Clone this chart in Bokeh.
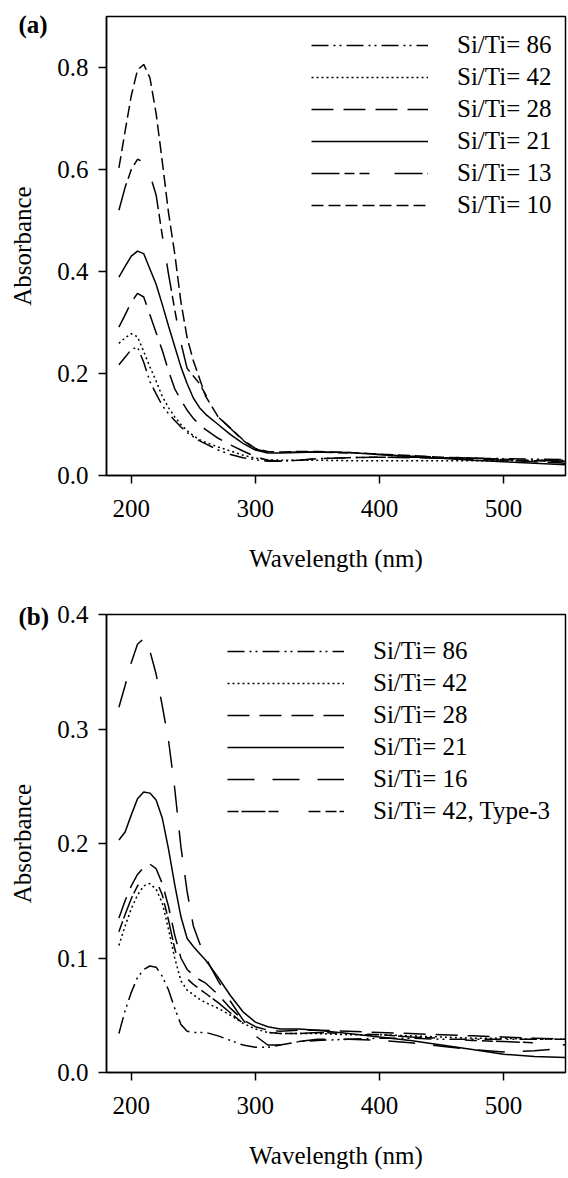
from bokeh.plotting import figure
from bokeh.models import (FixedTicker, NumeralTickFormatter, Legend, LegendItem, Range1d)
from bokeh.layouts import column
from bokeh.embed import file_html
from bokeh.resources import INLINE

# ---------------- data ----------------
wavelength = [190, 195, 200, 205, 210, 215, 220, 225, 230, 235, 240, 245, 250, 255, 260,
              270, 280, 290, 300, 310, 320, 335, 350, 375, 400, 425, 450, 475, 500, 525, 550]

x_ticks = [200, 300, 400, 500]
a_y_ticks = [0.0, 0.2, 0.4, 0.6, 0.8]
b_y_ticks = [0.0, 0.1, 0.2, 0.3, 0.4]

a_labels = ["Si/Ti= 86", "Si/Ti= 42", "Si/Ti= 28", "Si/Ti= 21", "Si/Ti= 13", "Si/Ti= 10"]
a_86 = [0.217, 0.232, 0.247, 0.252, 0.222, 0.184, 0.160, 0.137, 0.121, 0.108, 0.095, 0.084, 0.076, 0.068, 0.062,
        0.050, 0.041, 0.035, 0.031, 0.028, 0.028, 0.030, 0.033, 0.035, 0.036, 0.036, 0.035, 0.034, 0.033, 0.032, 0.031]
a_42 = [0.259, 0.270, 0.278, 0.272, 0.243, 0.213, 0.185, 0.155, 0.133, 0.115, 0.100, 0.088, 0.078, 0.070, 0.065,
        0.056, 0.048, 0.040, 0.034, 0.031, 0.030, 0.030, 0.030, 0.029, 0.029, 0.029, 0.029, 0.029, 0.029, 0.030, 0.030]
a_28 = [0.291, 0.315, 0.340, 0.357, 0.350, 0.315, 0.280, 0.245, 0.205, 0.170, 0.148, 0.128, 0.112, 0.099, 0.090,
        0.073, 0.060, 0.048, 0.037, 0.030, 0.028, 0.030, 0.033, 0.035, 0.036, 0.035, 0.034, 0.032, 0.030, 0.027, 0.024]
a_21 = [0.389, 0.410, 0.430, 0.440, 0.435, 0.405, 0.375, 0.335, 0.293, 0.253, 0.213, 0.180, 0.152, 0.133, 0.120,
        0.100, 0.080, 0.063, 0.050, 0.044, 0.044, 0.045, 0.046, 0.045, 0.041, 0.037, 0.034, 0.030, 0.027, 0.024, 0.021]
a_13 = [0.520, 0.565, 0.600, 0.620, 0.615, 0.590, 0.550, 0.470, 0.395, 0.325, 0.260, 0.210, 0.195, 0.180, 0.158,
        0.115, 0.092, 0.069, 0.052, 0.046, 0.045, 0.046, 0.046, 0.044, 0.041, 0.038, 0.036, 0.034, 0.032, 0.030, 0.028]
a_10 = [0.603, 0.675, 0.745, 0.795, 0.806, 0.780, 0.710, 0.615, 0.515, 0.435, 0.340, 0.270, 0.225, 0.190, 0.155,
        0.115, 0.093, 0.070, 0.053, 0.047, 0.046, 0.047, 0.047, 0.045, 0.042, 0.039, 0.036, 0.034, 0.031, 0.029, 0.027]

b_labels = ["Si/Ti= 86", "Si/Ti= 42", "Si/Ti= 28", "Si/Ti= 21", "Si/Ti= 16", "Si/Ti= 42, Type-3"]
b_86 = [0.034, 0.054, 0.070, 0.083, 0.090, 0.093, 0.092, 0.084, 0.072, 0.056, 0.042, 0.036, 0.035, 0.035, 0.035,
        0.032, 0.028, 0.024, 0.022, 0.022, 0.024, 0.027, 0.028, 0.029, 0.030, 0.030, 0.029, 0.029, 0.029, 0.029, 0.029]
b_42 = [0.111, 0.128, 0.143, 0.155, 0.163, 0.165, 0.160, 0.148, 0.125, 0.100, 0.080, 0.072, 0.068, 0.064, 0.061,
        0.056, 0.050, 0.043, 0.038, 0.035, 0.034, 0.034, 0.034, 0.033, 0.033, 0.032, 0.031, 0.030, 0.030, 0.029, 0.029]
b_28 = [0.135, 0.150, 0.163, 0.173, 0.179, 0.182, 0.178, 0.165, 0.145, 0.120, 0.100, 0.090, 0.085, 0.081, 0.078,
        0.068, 0.056, 0.046, 0.040, 0.037, 0.036, 0.037, 0.037, 0.036, 0.035, 0.034, 0.033, 0.032, 0.031, 0.030, 0.029]
b_21 = [0.203, 0.210, 0.225, 0.239, 0.245, 0.244, 0.238, 0.222, 0.195, 0.164, 0.136, 0.117, 0.110, 0.104, 0.098,
        0.083, 0.067, 0.053, 0.044, 0.040, 0.038, 0.038, 0.037, 0.034, 0.031, 0.028, 0.024, 0.020, 0.016, 0.014, 0.013]
b_16 = [0.319, 0.338, 0.358, 0.374, 0.379, 0.368, 0.348, 0.320, 0.290, 0.248, 0.197, 0.158, 0.128, 0.113, 0.100,
        0.080, 0.062, 0.046, 0.032, 0.024, 0.024, 0.027, 0.029, 0.029, 0.028, 0.026, 0.023, 0.020, 0.018, 0.019, 0.021]
b_t3 = [0.123, 0.138, 0.152, 0.163, 0.169, 0.172, 0.168, 0.155, 0.133, 0.108, 0.090, 0.082, 0.077, 0.073, 0.069,
        0.061, 0.052, 0.043, 0.038, 0.035, 0.034, 0.034, 0.035, 0.034, 0.033, 0.031, 0.030, 0.028, 0.027, 0.026, 0.024]

# ---------------- styling ----------------
FONT = "'Liberation Serif', 'Times New Roman', serif"
FS = "25px"
LW = 1.5

DASH_86 = "17 5 2 4 2 5"
DASH_42 = "2 3"
DASH_28 = "22 10"
DASH_21 = "solid"
DASH_13 = "28 5 10 5 10 25"
DASH_10 = "12 5"
DASH_16 = "27 18"
DASH_T3 = "11 3 24 3 10 30 12 5"


def make_fig(height, top, bottom, y_max, y_ticks, panel_text, title_standoff):
    p = figure(width=568, height=height, output_backend="svg", toolbar_location=None,
               x_range=Range1d(180, 550), y_range=Range1d(0, y_max),
               min_border_left=106, min_border_right=3,
               min_border_top=top, min_border_bottom=bottom)
    p.xgrid.visible = False
    p.ygrid.visible = False
    p.outline_line_color = "black"
    p.outline_line_width = LW
    p.background_fill_color = "white"
    p.border_fill_color = "white"
    # panel tag "(a)" / "(b)" drawn as the figure title, shifted left of the frame
    p.title.text = panel_text
    p.title.align = "left"
    p.title.offset = -88
    p.title.vertical_align = "bottom"
    p.title.standoff = title_standoff
    p.title.text_font = FONT
    p.title.text_font_size = FS
    p.title.text_font_style = "bold"
    p.title.text_color = "black"
    p.xaxis.ticker = FixedTicker(ticks=x_ticks, minor_ticks=[])
    p.yaxis.ticker = FixedTicker(ticks=y_ticks, minor_ticks=[])
    p.yaxis.formatter = NumeralTickFormatter(format="0.0")
    p.xaxis.axis_label = "Wavelength (nm)"
    p.yaxis.axis_label = "Absorbance"
    for ax in (p.xaxis[0], p.yaxis[0]):
        ax.axis_line_width = LW
        ax.major_tick_line_width = LW
        ax.major_tick_in = 0
        ax.major_tick_out = 8
        ax.major_label_text_font = FONT
        ax.major_label_text_font_size = FS
        ax.major_label_text_color = "black"
        ax.axis_label_text_font = FONT
        ax.axis_label_text_font_size = FS
        ax.axis_label_text_font_style = "normal"
        ax.axis_label_text_color = "black"
    p.xaxis.major_label_standoff = 16
    p.xaxis.axis_label_standoff = 25
    p.yaxis.major_label_standoff = 10
    p.yaxis.axis_label_standoff = 18
    return p


def add_series(p, series, labels, dashes, loc):
    items = []
    for ys, lab, dash in zip(series, labels, dashes):
        r = p.line(wavelength, ys, line_color="black", line_width=LW, line_dash=dash)
        items.append(LegendItem(label=lab, renderers=[r]))
    leg = Legend(items=items, location=loc, glyph_width=117, glyph_height=32,
                 label_height=32, label_standoff=29, spacing=0, padding=0, margin=0,
                 border_line_alpha=0, background_fill_alpha=0,
                 label_text_font=FONT, label_text_font_size=FS, label_text_color="black")
    p.add_layout(leg)


# panel (a)
pa = make_fig(574, 16, 98, 0.9, a_y_ticks, "(a)", -42)
add_series(pa, [a_86, a_42, a_28, a_21, a_13, a_10], a_labels,
           [DASH_86, DASH_42, DASH_28, DASH_21, DASH_13, DASH_10], (205, 254))

# panel (b)
pb = make_fig(597, 40, 96, 0.4, b_y_ticks, "(b)", -30)
add_series(pb, [b_86, b_42, b_28, b_21, b_16, b_t3], b_labels,
           [DASH_86, DASH_42, DASH_28, DASH_21, DASH_16, DASH_T3], (121, 245))

layout = column(pa, pb, spacing=0)
open("out.html", "w").write(file_html(layout, INLINE))
